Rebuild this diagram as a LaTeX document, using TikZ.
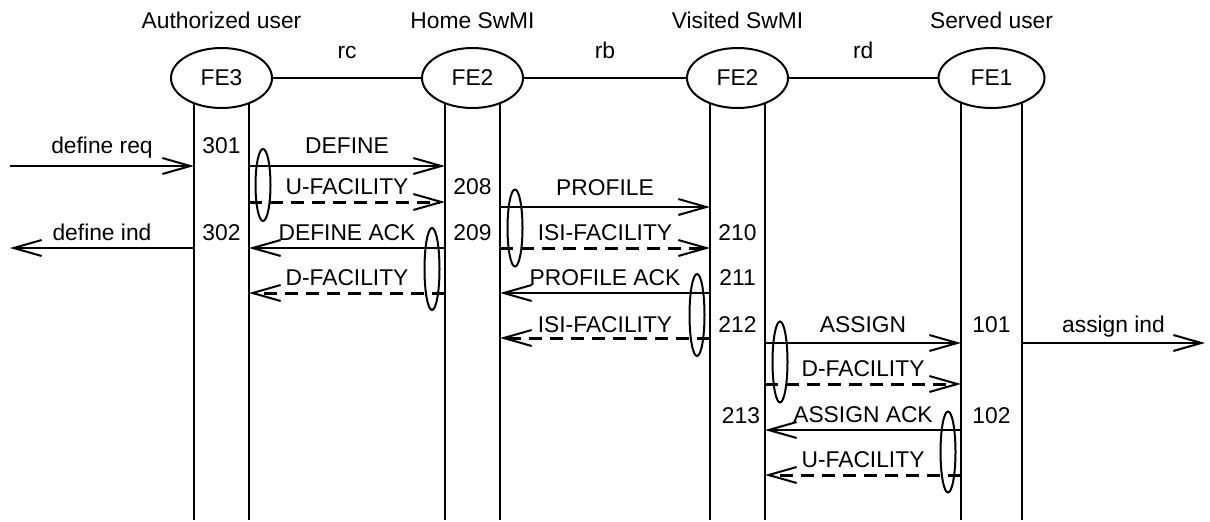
\documentclass[tikz,border=0pt]{standalone}
\usepackage{fontspec}
\setmainfont{Liberation Sans}
\usetikzlibrary{arrows.meta,shapes.geometric}

\begin{document}
\begin{tikzpicture}[x=1pt, y=-1pt,
  font=\fontsize{22.8}{27}\selectfont,
  fe/.style={draw, ellipse, line width=2pt, fill=white, minimum width=101pt,
             minimum height=60pt, inner sep=0pt},
  life/.style={line width=2pt},
  link/.style={line width=2pt},
  msg/.style={line width=2pt, -{Straight Barb[length=28pt, width=16pt, line width=2pt]}},
  fac/.style={msg, line width=3pt, dash pattern=on 13pt off 8pt},
  lbl/.style={anchor=base, yshift=8pt, inner sep=0pt},
  num/.style={anchor=base, inner sep=0pt},
  grp/.style={draw, ellipse, line width=2pt, minimum width=15pt, inner sep=0pt}]
  \useasboundingbox (0,0) rectangle (1210,522);

  \coordinate (l1) at (194,78);
  \coordinate (l2) at (249,78);
  \coordinate (l3) at (445,78);
  \coordinate (l4) at (500,78);
  \coordinate (l5) at (710,78);
  \coordinate (l6) at (765,78);
  \coordinate (l7) at (961,78);
  \coordinate (l8) at (1022,78);
  \coordinate (bot) at (0,520);
  \coordinate (lext) at (10,0);
  \coordinate (rext) at (1205,0);

  \coordinate (r1) at (0,166);
  \coordinate (r2) at (0,202);
  \coordinate (r3) at (0,207);
  \coordinate (r4) at (0,248);
  \coordinate (r5) at (0,293);
  \coordinate (r6) at (0,338);
  \coordinate (r7) at (0,343);
  \coordinate (r8) at (0,384);
  \coordinate (r9) at (0,430);
  \coordinate (r10) at (0,475);

  \foreach \i in {1,...,8}
    \draw[life] (l\i) -- (l\i |- bot);

  \node[num] (hauth) at (221.5,28) {Authorized user};
  \node[num] (hhome) at (472.5,28) {Home SwMI};
  \node[num] (hvis) at (737.5,28) {Visited SwMI};
  \node[num] (hserv) at (991.5,28) {Served user};

  \node[fe] (fe3) at (221.5,78) {FE3};
  \node[fe] (fe2h) at (472.5,78) {FE2};
  \node[fe] (fe2v) at (737.5,78) {FE2};
  \node[fe, minimum width=106pt] (fe1) at (991.5,78) {FE1};
  \draw[link] (fe3) -- node[lbl, yshift=12pt] {rc} (fe2h);
  \draw[link] (fe2h) -- node[lbl, yshift=12pt] {rb} (fe2v);
  \draw[link] (fe2v) -- node[lbl, yshift=12pt] {rd} (fe1);

  \draw[msg] (lext |- r1) -- node[lbl, yshift=5pt] {define req} (l1 |- r1);
  \draw[msg] (l1 |- r4) -- node[lbl] {define ind} (lext |- r4);
  \draw[msg] (l2 |- r1) -- node[lbl, yshift=5pt] {DEFINE} (l3 |- r1);
  \draw[fac] (l2 |- r2) -- node[lbl] {U-FACILITY} (l3 |- r2);
  \draw[msg] (l3 |- r4) -- node[lbl] {DEFINE ACK} (l2 |- r4);
  \draw[fac] (l3 |- r5) -- node[lbl] {D-FACILITY} (l2 |- r5);
  \draw[msg] (l4 |- r3) -- node[lbl, yshift=4pt] {PROFILE} (l5 |- r3);
  \draw[fac] (l4 |- r4) -- node[lbl] {ISI-FACILITY} (l5 |- r4);
  \draw[msg] (l5 |- r5) -- node[lbl] {PROFILE ACK} (l4 |- r5);
  \draw[fac] (l5 |- r6) -- node[lbl, yshift=-2pt] {ISI-FACILITY} (l4 |- r6);
  \draw[msg] (l6 |- r7) -- node[lbl, yshift=3pt] {ASSIGN} (l7 |- r7);
  \draw[msg] (l8 |- r7) -- node[lbl, yshift=3pt] {assign ind} (rext |- r7);
  \draw[fac] (l6 |- r8) -- node[lbl] {D-FACILITY} (l7 |- r8);
  \draw[msg] (l7 |- r9) -- node[lbl] {ASSIGN ACK} (l6 |- r9);
  \draw[fac] (l7 |- r10) -- node[lbl] {U-FACILITY} (l6 |- r10);

  \node[grp, minimum height=72pt] (g1) at (263,185) {};
  \node[grp, minimum height=82pt] (g2) at (432,269) {};
  \node[grp, minimum height=77pt] (g3) at (515,228) {};
  \node[grp, minimum height=82pt] (g4) at (697,315) {};
  \node[grp, minimum height=81pt] (g5) at (780,362) {};
  \node[grp, minimum height=81pt] (g6) at (948,452) {};

  \node[num] (n301) at (221.5,153) {301};
  \node[num] (n302) at (221.5,240) {302};
  \node[num] (n208) at (472.5,194) {208};
  \node[num] (n209) at (472.5,240) {209};
  \node[num] (n210) at (737.5,240) {210};
  \node[num] (n211) at (737.5,285) {211};
  \node[num] (n212) at (737.5,332) {212};
  \node[num] (n213) at (741,423) {213};
  \node[num] (n101) at (991.5,332) {101};
  \node[num] (n102) at (991.5,423) {102};
\end{tikzpicture}
\end{document}
